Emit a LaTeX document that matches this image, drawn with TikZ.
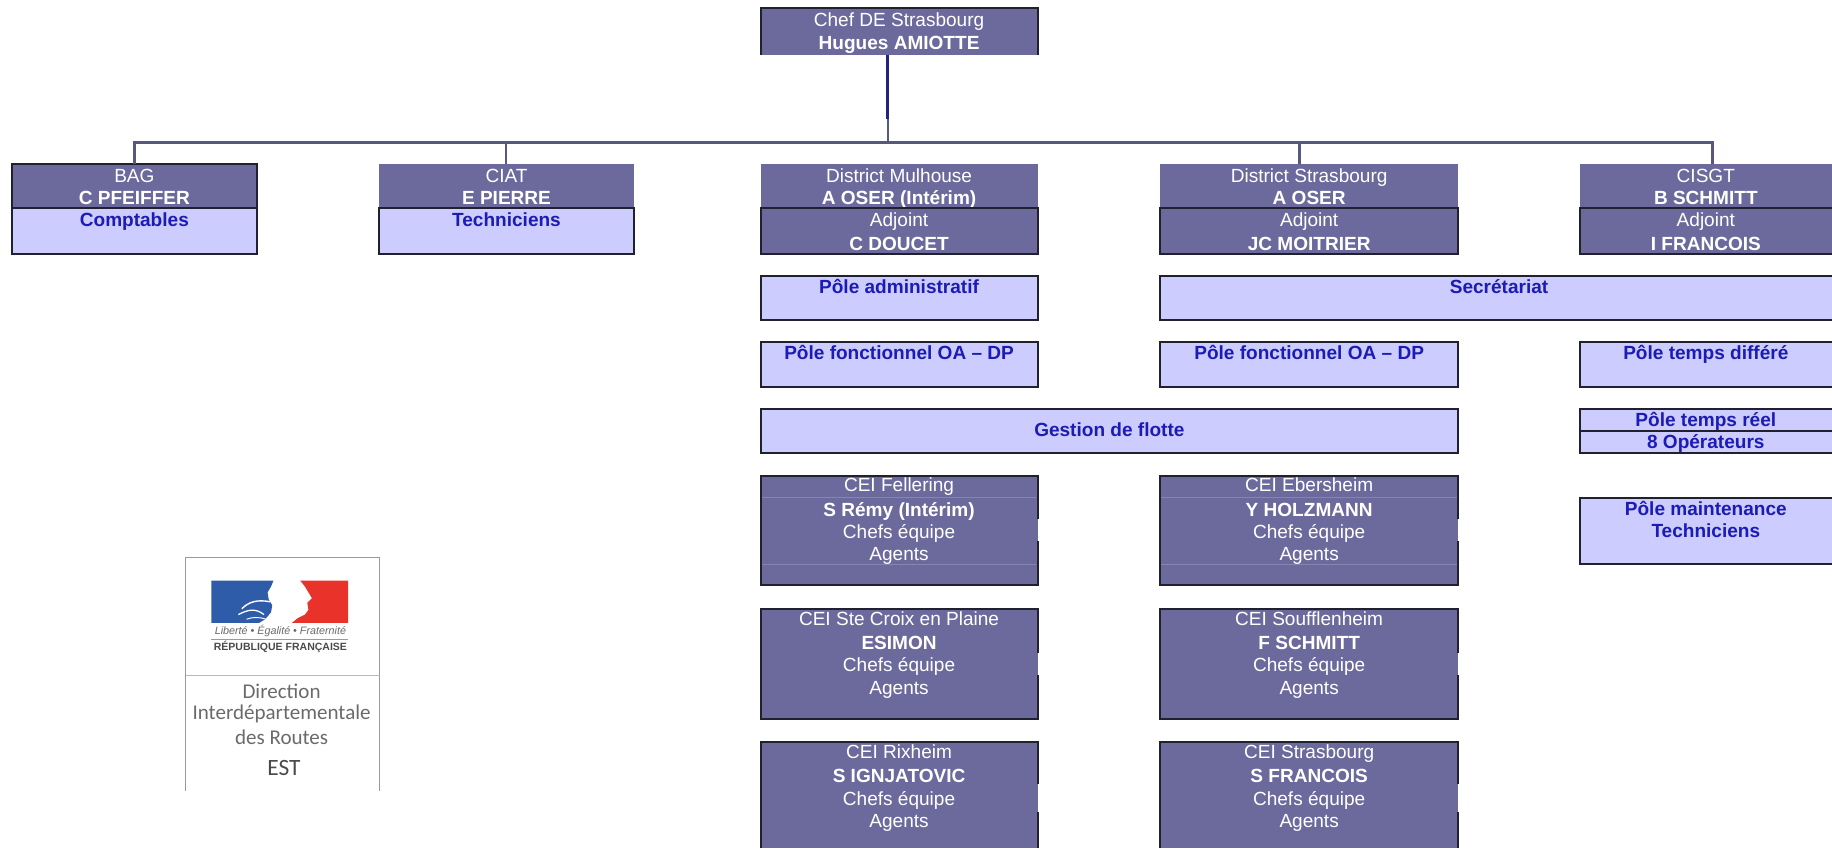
\documentclass[tikz,border=0pt]{standalone}
\usepackage{fontspec}
\setmainfont{Liberation Sans}
\newfontfamily\logofont{Carlito}
\usetikzlibrary{calc}
\definecolor{darkfill}{HTML}{6C6A9C}
\definecolor{lightfill}{HTML}{CCCCFF}
\definecolor{bluetext}{HTML}{1C1CB4}
\definecolor{edgecol}{HTML}{20202E}
\definecolor{linkcol}{HTML}{57577F}
\definecolor{stemcol}{HTML}{23237F}
\definecolor{logoline}{HTML}{9A9A9A}
\definecolor{logotext}{HTML}{6A6A6A}
\definecolor{flagblue}{HTML}{2E5CA8}
\definecolor{flagred}{HTML}{E8322A}
\tikzset{
  darkbox/.style={fill=darkfill,text=white,inner sep=0pt,outer sep=0pt,anchor=north west},
  lightbox/.style={fill=lightfill,text=bluetext,inner sep=0pt,outer sep=0pt,anchor=north west},
  edge/.style={draw=edgecol,line width=1.7pt,line cap=butt},
  link/.style={draw=linkcol,line width=2.4pt},
  logotxt/.style={text=logotext,inner sep=0pt,font=\logofont\fontsize{18}{20}\selectfont}
}
\def\toff{2.7}
\newcommand{\orgnode}[7]{%
  \node[#1] (#2) at (#3,#4) {\parbox[t][#6pt][t]{#5pt}{\centering\fontsize{16.3}{19}\selectfont\vspace*{\toff pt}\strut#7}};}
\newcommand{\bfull}[1]{\draw[edge] (#1.north west) rectangle (#1.south east);}
\newcommand{\bopen}[1]{\draw[edge] (#1.north east) -- (#1.north west) -- (#1.south west) -- (#1.south east);}
\newcommand{\bcei}[1]{%
  \draw[edge] ($(#1.north east)!0.40!(#1.south east)$) -- (#1.north east) -- (#1.north west) -- (#1.south west) -- (#1.south east) -- ($(#1.north east)!0.60!(#1.south east)$);}
\newcommand{\bceicut}[1]{%
  \draw[edge] (#1.south west) -- (#1.north west) -- (#1.north east) -- ($(#1.north east)!0.40!(#1.south east)$);
  \draw[edge] (#1.south east) -- ($(#1.north east)!0.66!(#1.south east)$);}
\begin{document}
\begin{tikzpicture}[x=1pt,y=-1pt]
\useasboundingbox (0,0) rectangle (1568,726);
% top
\orgnode{darkbox}{chef}{651}{7}{237}{40}{Chef DE Strasbourg\\\textbf{Hugues AMIOTTE}}
\draw[edge] (chef.south west) -- (chef.north west) -- (chef.north east) -- (chef.south east);
% row 1
\orgnode{darkbox}{bag}{10}{140}{210}{38}{BAG\\\textbf{C PFEIFFER}}
\orgnode{lightbox}{bagc}{10}{178}{210}{39}{\textbf{Comptables}}
\orgnode{darkbox}{ciat}{324}{140}{219}{38}{CIAT\\\textbf{E PIERRE}}
\orgnode{lightbox}{ciatc}{324}{178}{219}{39}{\textbf{Techniciens}}
\orgnode{darkbox}{mul}{651}{140}{237}{38}{District Mulhouse\\\textbf{A OSER (Intérim)}}
\orgnode{darkbox}{mula}{651}{178}{237}{39}{Adjoint\\[1pt]\textbf{C DOUCET}}
\orgnode{darkbox}{str}{993}{140}{255}{38}{District Strasbourg\\\textbf{A OSER}}
\orgnode{darkbox}{stra}{993}{178}{255}{39}{Adjoint\\[1pt]\textbf{JC MOITRIER}}
\orgnode{darkbox}{cis}{1352}{140}{216}{38}{CISGT\\\textbf{B SCHMITT}}
\orgnode{darkbox}{cisa}{1352}{178}{216}{39}{Adjoint\\[1pt]\textbf{I FRANCOIS}}
\draw[edge] (bag.south west) -- (bag.north west) -- (bag.north east) -- (bag.south east);
\bfull{bagc}\bfull{ciatc}\bfull{mula}\bfull{stra}
\draw[edge] (cisa.north east) -- (cisa.north west) -- (cisa.south west) -- (cisa.south east);
% poles
\def\toff{1.7}
\orgnode{lightbox}{padm}{651}{236}{237}{38}{\textbf{Pôle administratif}}
\orgnode{lightbox}{sec}{993}{236}{575}{38}{\hspace*{5pt}\textbf{Secrétariat}}
\orgnode{lightbox}{pf1}{651}{293}{237}{38}{\textbf{Pôle fonctionnel OA – DP}}
\orgnode{lightbox}{pf2}{993}{293}{255}{38}{\textbf{Pôle fonctionnel OA – DP}}
\orgnode{lightbox}{ptd}{1352}{293}{216}{38}{\textbf{Pôle temps différé}}
\def\toff{10.7}
\orgnode{lightbox}{ges}{651}{350}{597}{38}{\textbf{Gestion de flotte}}
\def\toff{1.7}
\orgnode{lightbox}{ptr}{1352}{350}{216}{19}{\textbf{Pôle temps réel}}
\orgnode{lightbox}{opr}{1352}{369}{216}{19}{\textbf{8 Opérateurs}}
\orgnode{lightbox}{pmt}{1352}{426}{216}{57}{\textbf{Pôle maintenance}\\\textbf{Techniciens}}
\bfull{padm}\bopen{sec}\bfull{pf1}\bfull{pf2}\bopen{ptd}\bfull{ges}\bopen{ptr}\bopen{opr}\bopen{pmt}
% CEI
\def\toff{0.7}
\newcommand{\ceitxt}[2]{#1\\[2pt]\textbf{#2}\\Chefs équipe\\Agents}
\orgnode{darkbox}{c1}{651}{407}{237}{94}{\ceitxt{CEI Fellering}{S Rémy (Intérim)}}
\orgnode{darkbox}{c2}{651}{521}{237}{94}{\ceitxt{CEI Ste Croix en Plaine}{ESIMON}}
\orgnode{darkbox}{c3}{651}{635}{237}{91}{\ceitxt{CEI Rixheim}{S IGNJATOVIC}}
\orgnode{darkbox}{d1}{993}{407}{255}{94}{\ceitxt{CEI Ebersheim}{Y HOLZMANN}}
\orgnode{darkbox}{d2}{993}{521}{255}{94}{\ceitxt{CEI Soufflenheim}{F SCHMITT}}
\orgnode{darkbox}{d3}{993}{635}{255}{91}{\ceitxt{CEI Strasbourg}{S FRANCOIS}}
\bcei{c1}\bcei{c2}\bceicut{c3}\bcei{d1}\bcei{d2}\bceicut{d3}
% faint rules in the first CEI row
\foreach \n in {c1,d1}{
  \draw[draw=darkfill!82!white,line width=0.9pt] ($(\n.north west)+(1,19)$) -- ($(\n.north east)+(-1,19)$);
  \draw[draw=darkfill!82!white,line width=0.9pt] ($(\n.north west)+(1,76)$) -- ($(\n.north east)+(-1,76)$);
}
% connectors
\coordinate (busL) at (115,122);
\coordinate (busM) at (760,122);
\coordinate (busS) at (433,122);
\coordinate (busT) at (1112,122);
\coordinate (busR) at (1466,122);
\coordinate (stemmid) at (760,102);
\draw[link] (busL |- bag.north) -- (busL) -- (busR) -- (busR |- cis.north);
\draw[link] (busS) -- (busS |- ciat.north);
\draw[link] (busT) -- (busT |- str.north);
\draw[link] (stemmid) -- (busM);
\draw[draw=stemcol,line width=2.6pt] (stemmid |- chef.south) -- (stemmid);
% logo
\coordinate (lgTL) at (159,477);
\coordinate (lgTR) at (325,477);
\coordinate (lgBL) at (159,677);
\coordinate (lgBR) at (325,677);
\draw[draw=logoline,line width=1.2pt] (lgBL) -- (lgTL) -- (lgTR) -- (lgBR);
\draw[draw=logoline!70,line width=1pt] (159,578) -- (325,578);
\fill[flagblue] (181,497) -- (234,497) -- (232,502) -- (229,507) -- (230,513) -- (233,518) -- (232,524) -- (227,530) -- (222,533) -- (181,533) -- cycle;
\fill[flagred] (257,497) -- (298,497) -- (298,533) -- (250,533) -- (255,529) -- (261,526) -- (264,522) -- (263,516) -- (267,512) -- (264,507) -- (261,502) -- cycle;
\draw[white,line width=1.2pt] (207,521) .. controls (213,515) and (220,513) .. (231,515);
\draw[white,line width=1.1pt] (204,526) .. controls (212,522) and (218,520) .. (226,526);
\draw[white,line width=0.8pt] (211,530) .. controls (216,528) and (222,528) .. (228,530);
\node[text=logotext,inner sep=0pt,font=\itshape\fontsize{9.2}{10}\selectfont] (devise) at (240,540) {Liberté • Égalité • Fraternité};
\draw[draw=logoline,line width=0.6pt] (181,547) -- (298,547);
\node[text=logotext!70!black,inner sep=0pt,font=\bfseries\fontsize{9}{10}\selectfont] (rep) at (240,554) {RÉPUBLIQUE FRANÇAISE};
\node[logotxt] (ld1) at (241,592) {Direction};
\node[logotxt] (ld2) at (241,611) {Interdépartementale};
\node[logotxt] (ld3) at (241,631) {des Routes};
\node[logotxt,text=logotext!70!black,font=\logofont\fontsize{20}{22}\selectfont] (ld4) at (243,657) {EST};
\end{tikzpicture}
\end{document}
